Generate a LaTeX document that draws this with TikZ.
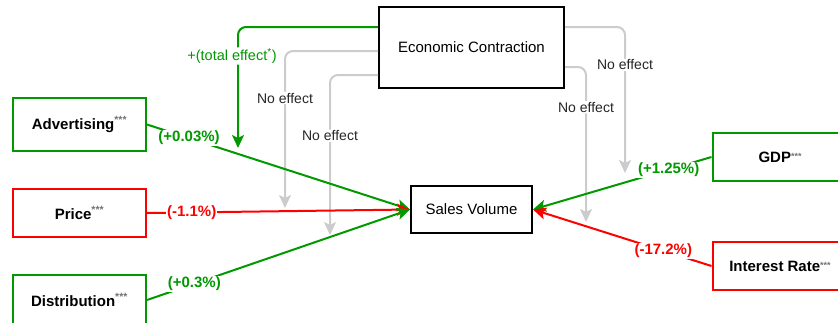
\documentclass[tikz,border=0pt]{standalone}
\usepackage{fontspec}
\setmainfont{Liberation Sans}
\usepackage{xcolor}
\usetikzlibrary{positioning,arrows.meta}
\definecolor{effgreen}{HTML}{009900}
\definecolor{effred}{HTML}{FF0000}
\definecolor{effgray}{HTML}{CCCCCC}
\newcommand{\stars}{\textsuperscript{\color{black!55}***}}
\newcommand{\midstars}{\raisebox{0.35ex}{\fontsize{9}{9}\selectfont\color{black!55}***}}

\begin{document}
\begin{tikzpicture}[x=1pt,y=-1pt,
  factor/.style={draw,line width=2pt,minimum width=133pt,font=\fontsize{15}{18}\selectfont\bfseries},
  target/.style={draw=black,line width=2pt,font=\fontsize{15}{18}\selectfont},
  link/.style={line width=2pt,-{Stealth[length=13pt,width=12pt,inset=3pt]}},
  pct/.style={fill=white,inner sep=1pt,font=\fontsize{15}{18}\selectfont\bfseries},
  noeff/.style={fill=white,inner sep=1pt,text=black!85,font=\fontsize{14}{16}\selectfont}]

\useasboundingbox (0,0) rectangle (838,322);

\node[target,minimum width=185pt,minimum height=81pt] (ec) at (471.5,47.5) {Economic Contraction};
\node[target,minimum width=121pt,minimum height=47pt] (sv) at (471.5,209.5) {Sales Volume};

\node[factor,draw=effgreen,minimum height=53pt] (adv) at (79.5,124.5) {Advertising\stars};
\node[factor,draw=effred,minimum height=48pt] (price) at (79.5,213) {Price\stars};
\node[factor,draw=effgreen,minimum height=50pt] (dist) at (79.5,300) {Distribution\stars};
\node[factor,draw=effgreen,minimum width=135pt,minimum height=48pt] (gdp) at (780,157) {GDP\midstars};
\node[factor,draw=effred,minimum width=135pt,minimum height=48pt] (rate) at (780,266) {Interest Rate\midstars};

\coordinate (total) at (238,148);
\coordinate (none1) at (285,208);
\coordinate (none2) at (330,235);
\coordinate (none3) at (625,173);
\coordinate (none4) at (586,222);

\draw[link,effgray,rounded corners=8pt] ([yshift=-45pt]ec.north west) -| node[noeff,pos=0.65] {No effect} (none1);
\draw[link,effgray,rounded corners=8pt] ([yshift=-69pt]ec.north west) -| node[noeff,pos=0.69] {No effect} (none2);
\draw[link,effgray,rounded corners=8pt] ([yshift=-21pt]ec.north east) -| node[noeff,pos=0.63] {No effect} (none3);
\draw[link,effgray,rounded corners=8pt] ([yshift=-61pt]ec.north east) -| node[noeff,pos=0.63] {No effect} (none4);

\draw[link,effgreen,rounded corners=8pt] ([yshift=-21pt]ec.north west) -| node[pos=0.62,xshift=-6pt,fill=white,inner sep=1pt,text=effgreen,font=\fontsize{14.5}{16}\selectfont] {+(total effect\textsuperscript{*})} (total);

\draw[link,effgreen] (adv.east) -- node[pct,pos=0.16,text=effgreen] {(+0.03\%)} (sv.west);
\draw[link,effred] (price.east) -- node[pct,pos=0.17,text=effred] {(-1.1\%)} (sv.west);
\draw[link,effgreen] (dist.east) -- node[pct,pos=0.18,text=effgreen] {(+0.3\%)} (sv.west);
\draw[link,effgreen] (gdp.west) -- node[pct,pos=0.24,text=effgreen] {(+1.25\%)} (sv.east);
\draw[link,effred] (rate.west) -- node[pct,pos=0.27,text=effred] {(-17.2\%)} (sv.east);

\end{tikzpicture}
\end{document}
